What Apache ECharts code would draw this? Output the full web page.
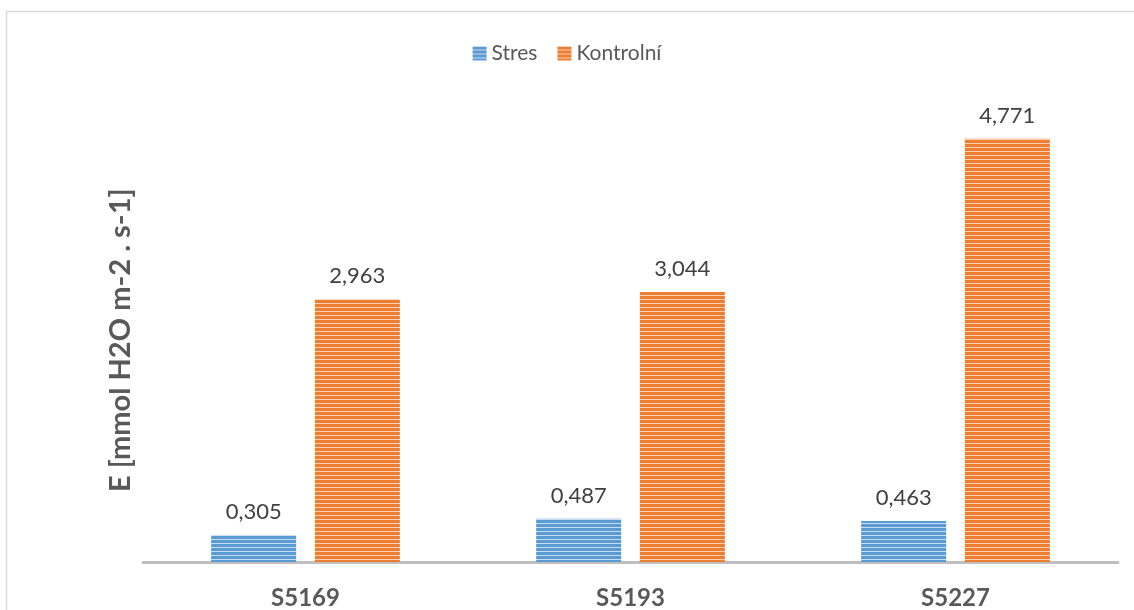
<!DOCTYPE html>
<html><head><meta charset="utf-8">
<script src="https://cdn.jsdelivr.net/npm/echarts@6/dist/echarts.min.js"></script>
<style>html,body{margin:0;padding:0;background:#fff}#c{width:1134px;height:610px}</style>
</head><body><div id="c"></div>
<script>
const categories = ['S5169', 'S5193', 'S5227'];
const stres = [0.305, 0.487, 0.463];
const kontrolni = [2.963, 3.044, 4.771];
const seriesNames = ['Stres', 'Kontrolní'];
const yTitle = 'E [mmol H2O m-2 . s-1]';

function stripe(main, light) {
  const c = document.createElement('canvas');
  c.width = 4; c.height = 4;
  const g = c.getContext('2d');
  g.fillStyle = main; g.fillRect(0, 0, 4, 4);
  g.fillStyle = light; g.fillRect(0, 3, 4, 1);
  return { image: c, repeat: 'repeat' };
}
const blue = stripe('#5B9BD5', '#c9dcf0');
const orange = stripe('#ED7D31', '#f9d0b3');
const FONT = 'Lato, "Open Sans", sans-serif';
const fmt = p => p.value.toFixed(3).replace('.', ',');

const chart = echarts.init(document.getElementById('c'));
chart.setOption({
  animation: false,
  textStyle: { fontFamily: FONT },
  graphic: [{ type: 'rect', shape: { x: 6.5, y: 11.5, width: 1300, height: 800 },
    style: { fill: 'none', stroke: '#d9d9d9', lineWidth: 1.5 }, silent: true, z: -1 }],
  legend: {
    data: seriesNames, top: 38, left: 'center', itemWidth: 14, itemHeight: 14, itemGap: 20,
    icon: 'rect', textStyle: { fontSize: 21, color: '#595959', fontFamily: FONT }
  },
  grid: { left: 143, right: 16, top: 118.5, bottom: 46, containLabel: false },
  xAxis: {
    type: 'category', data: categories,
    axisLine: { lineStyle: { color: '#bfbfbf', width: 3 } },
    axisTick: { show: false },
    axisLabel: { margin: 24, fontSize: 24, fontWeight: 'bold', color: '#595959', fontFamily: FONT }
  },
  yAxis: {
    type: 'value', min: 0, max: 5, show: true,
    axisLine: { show: false }, axisTick: { show: false }, axisLabel: { show: false },
    splitLine: { show: false },
    name: yTitle, nameLocation: 'middle', nameGap: 8, nameRotate: 90,
    nameTextStyle: { fontSize: 29, fontWeight: 'bold', color: '#595959', fontFamily: FONT }
  },
  series: [
    { name: seriesNames[0], type: 'bar', data: stres, barWidth: 85, barGap: '22%',
      itemStyle: { color: blue },
      label: { show: true, position: 'top', distance: 12, fontSize: 22, color: '#404040', formatter: fmt, fontFamily: FONT } },
    { name: seriesNames[1], type: 'bar', data: kontrolni, barWidth: 85, barGap: '22%',
      itemStyle: { color: orange },
      label: { show: true, position: 'top', distance: 12, fontSize: 22, color: '#404040', formatter: fmt, fontFamily: FONT } }
  ]
});
</script></body></html>
